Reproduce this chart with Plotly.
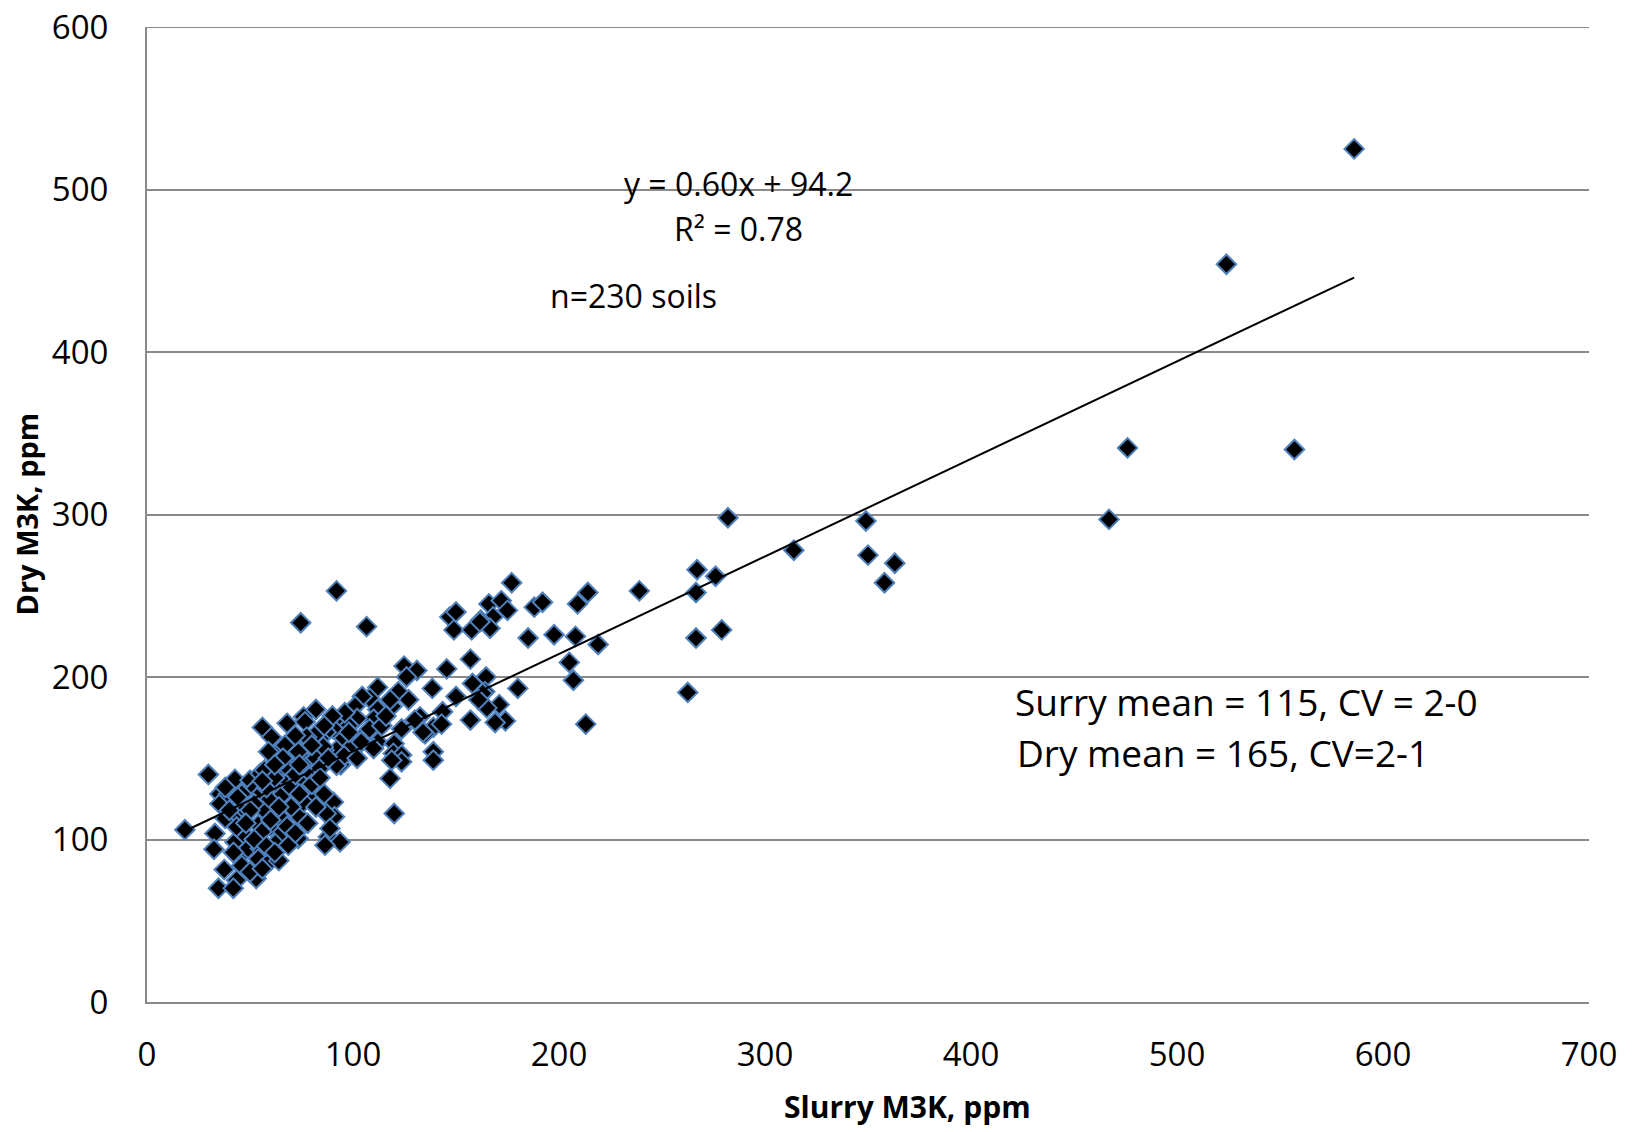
import plotly.graph_objects as go

# Slurry M3K (x) and Dry M3K (y), ppm
slurry = [
    586, 524, 557, 476, 467, 349, 350, 363, 358, 314, 282,
    267, 276, 266.5, 239, 266.5, 279, 262.5,
    177, 166, 172, 175, 168, 162, 166.5, 188, 192, 185, 197.6, 209, 214, 208, 219, 205, 207, 180,
    164.6, 164, 171, 165, 174, 169, 213,
    145.5, 157, 138.5, 150, 158, 163, 161, 143.5, 139, 135, 143, 157, 139, 147, 150, 149, 157.6, 161.6, 132.5,
    106.6, 124.8, 131, 126, 122, 112, 108, 104.5, 127, 119, 112, 101, 97.7, 110, 102, 92, 98, 95, 106, 112,
    130, 123.6, 120, 134, 119.6, 123.6, 90.5,
    92, 74.6, 82, 76, 68, 56, 60.5, 87, 84, 92, 86, 74, 78, 69, 64.6, 59, 68, 77.5, 82, 94, 118, 120,
    29.8, 18.4, 42.7, 35.4, 35.4, 33, 38, 45, 49.7, 50, 55, 90.5, 91, 88, 93.7, 73.4, 79, 76, 73.4,
    32.5, 39.5, 42.7, 44.3, 37.5, 34.7, 43.5, 53, 41.9, 47.6, 54, 49, 55, 54, 60, 64, 57, 60, 64, 66,
    68.6, 86.4, 87, 64.6, 69.4, 57, 51.6, 55.7, 59.7, 63.8, 68.6, 76, 43.5, 46, 55.7,
    76.7, 82, 77.5, 67, 73.4, 85.6,
    123.6, 118.8, 92, 88.8, 139,
    46, 52, 58, 62, 66, 70, 72, 74, 80, 84, 88, 96, 100, 104, 108, 114, 116, 118, 96, 90, 86, 80, 72,
    66, 62, 56, 50, 48, 52, 58, 62, 66, 70, 74, 80, 84, 44, 40, 38, 42, 46, 50, 56, 60, 64, 68, 72, 78,
    82, 86, 98, 102, 110,
]
dry = [
    525, 454, 340, 341, 297, 296, 275, 270, 258, 278, 298,
    266, 262, 252, 253, 224, 229, 190.5,
    258, 245, 247, 241, 237, 235, 230, 243, 246, 224, 226, 245, 252, 225, 220, 209, 198, 193,
    200, 191, 183, 181, 173, 172, 171,
    205, 211, 193, 188, 196, 190, 186, 178.6, 169, 165, 171, 173.5, 154, 237, 240, 229, 229, 234, 175.5,
    231, 206.7, 204, 200, 191, 193.6, 187, 188, 186, 182, 180, 182, 175.5, 174, 174.5, 171, 170, 163, 165, 160,
    173.5, 168, 159, 166, 153, 152, 168,
    253, 233.4, 180, 175.5, 171.5, 169, 163, 166, 162, 155, 155, 152, 161, 159, 155, 154, 147, 145, 150, 146, 137.6, 116,
    140, 106, 137, 128, 122, 103.7, 113, 114, 131, 136.5, 140.6, 123, 114, 101.6, 98.5, 115, 127, 123, 100.6,
    94, 128, 98.5, 89, 81.5, 70, 75, 76, 70, 102.6, 109, 94.5, 94.5, 88, 87, 87, 118, 108, 99.6, 104.7,
    96.5, 96.5, 116, 143.7, 142.7, 142.7, 130, 128.7, 125, 133, 135.5, 136.5, 107.7, 120, 104.7,
    172.4, 165, 163, 158, 154, 157,
    147.8, 148.8, 145.7, 106.8, 148.8,
    128, 122, 132, 138, 128, 132, 140, 146, 140, 144, 150, 152, 158, 160, 168, 170, 176, 186, 178, 176, 170, 158, 164,
    150, 146, 136, 118, 110, 100, 96, 92, 112, 120, 128, 134, 138, 126, 118, 132, 92, 84, 80, 82, 112, 120, 108, 104, 110,
    120, 128, 166, 150, 156,
]

# Linear trend line as printed on the chart
slope = 0.60
intercept = 94.2

x_ticks = [0, 100, 200, 300, 400, 500, 600, 700]
y_ticks = [0, 100, 200, 300, 400, 500, 600]

trend_x = [min(slurry), max(slurry)]
trend_y = [slope * v + intercept for v in trend_x]

FONT = "Open Sans"
GRID = "#8a8a8a"

fig = go.Figure()
fig.add_trace(go.Scatter(
    x=slurry, y=dry, mode="markers",
    marker=dict(symbol="diamond", size=15, color="black",
                line=dict(color="#4f81bd", width=2)),
    showlegend=False, hoverinfo="x+y",
))
fig.add_trace(go.Scatter(
    x=trend_x, y=trend_y, mode="lines",
    line=dict(color="black", width=2),
    showlegend=False, hoverinfo="skip",
))

fig.update_layout(
    width=1633, height=1132,
    margin=dict(l=147, r=44, t=27, b=130),
    paper_bgcolor="white", plot_bgcolor="white",
    font=dict(family=FONT, color="black", size=33),
    xaxis=dict(range=[0, 700], tickvals=x_ticks, showgrid=False, zeroline=False,
               showline=True, linecolor=GRID, linewidth=2, ticks="", automargin=False,
               ticklabelstandoff=22, ticklabeloverflow="allow",
               tickfont=dict(size=33, family=FONT)),
    yaxis=dict(range=[0, 600], tickvals=y_ticks, showgrid=True, gridcolor=GRID,
               gridwidth=2, zeroline=False, showline=True, linecolor=GRID,
               linewidth=2, ticks="", ticklabelstandoff=30, automargin=False,
               ticklabeloverflow="allow",
               tickfont=dict(size=33, family=FONT)),
)

# gridline at the top tick (Plotly skips grid lines lying on the plot edge)
fig.add_shape(type="line", xref="paper", x0=0, x1=1, yref="y",
              y0=y_ticks[-1], y1=y_ticks[-1], line=dict(color=GRID, width=2),
              layer="below")

annos = [
    dict(x=287, y=503.5, text="y = 0.60x + 94.2", size=32, xanchor="center"),
    dict(x=287, y=476, text="R² = 0.78", size=32, xanchor="center"),
    dict(x=236, y=434.5, text="n=230 soils", size=32, xanchor="center"),
    dict(x=420.4, y=185, text="Surry mean = 115, CV = 2-0", size=37, xanchor="left"),
    dict(x=421.4, y=153.8, text="Dry mean = 165, CV=2-1", size=37, xanchor="left"),
]
for a in annos:
    fig.add_annotation(x=a["x"], y=a["y"], xref="x", yref="y", text=a["text"],
                       showarrow=False, xanchor=a["xanchor"], yanchor="middle",
                       font=dict(family=FONT, size=a["size"], color="black"))

fig.add_annotation(x=0.5277, y=-0.107, xref="paper", yref="paper",
                   text="<b>Slurry M3K, ppm</b>", showarrow=False,
                   xanchor="center", yanchor="middle",
                   font=dict(family=FONT, size=30, color="black"))
fig.add_annotation(x=-0.0839, y=0.5, xref="paper", yref="paper",
                   text="<b>Dry M3K, ppm</b>", showarrow=False, textangle=-90,
                   xanchor="center", yanchor="middle",
                   font=dict(family=FONT, size=29, color="black"))

# remove the default page margin so the figure fills the window exactly
fig.write_html("out.html", config={"displayModeBar": False},
               post_script="document.body.style.margin='0';")
